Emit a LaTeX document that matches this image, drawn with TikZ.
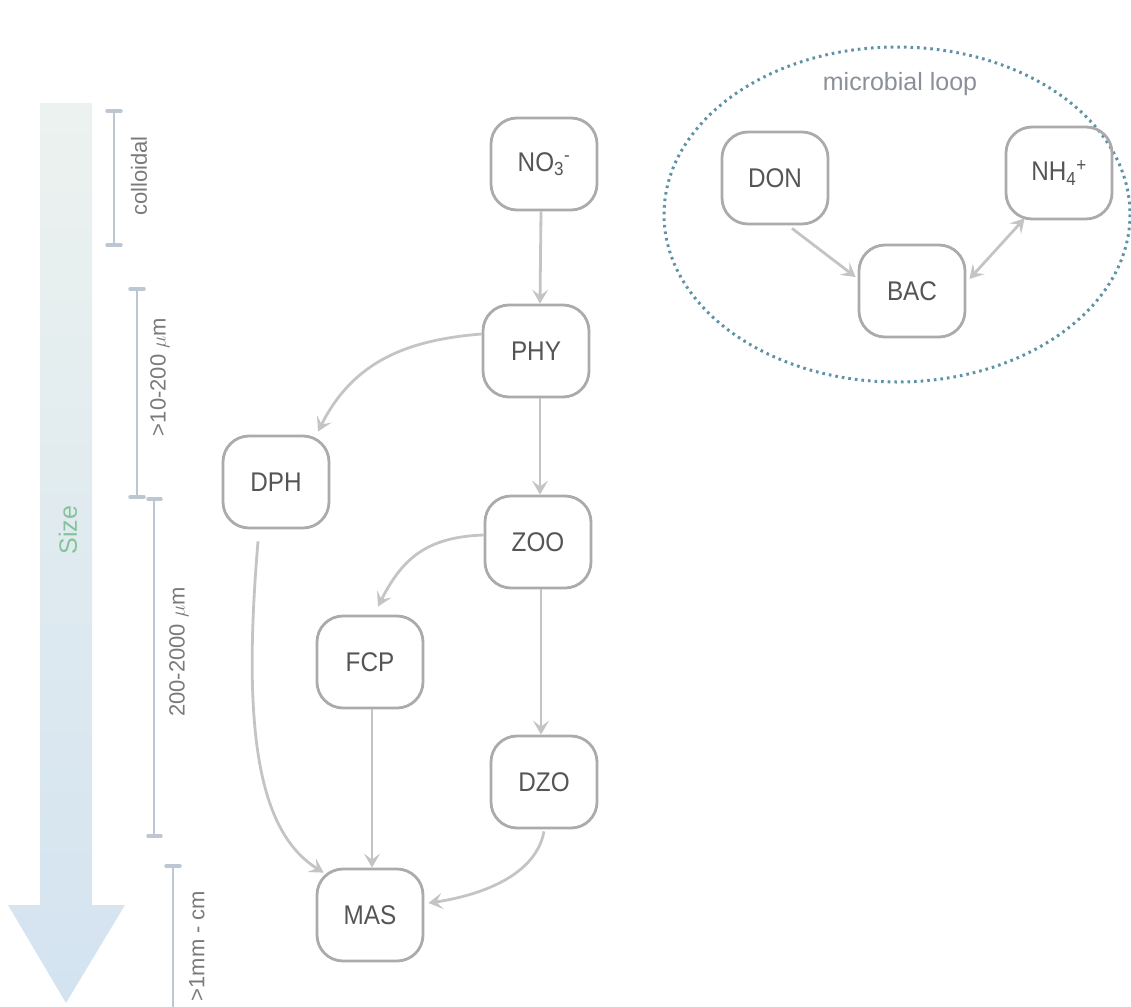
\documentclass[tikz,border=0pt]{standalone}
\usepackage{fontspec}
\setmainfont{Liberation Sans}
\newfontfamily\boxfont[FakeStretch=0.9]{Liberation Sans}
\usetikzlibrary{arrows.meta,calc}
\definecolor{nodeline}{HTML}{ABABAB}
\definecolor{nodetext}{HTML}{555555}
\definecolor{edgecol}{HTML}{C4C4C4}
\definecolor{brk}{HTML}{BCC7D3}
\definecolor{brktext}{HTML}{7A7A7A}
\definecolor{loopcol}{HTML}{5E93A6}
\definecolor{looptext}{HTML}{8A9099}
\definecolor{sizegreen}{HTML}{86C29A}
\definecolor{arrtop}{HTML}{ECF2EF}
\definecolor{arrbot}{HTML}{D3E3F0}
\tikzset{
  box/.style={draw=nodeline, line width=2.8pt, rounded corners=26pt,
    minimum width=106pt, minimum height=92pt, text=nodetext,
    font=\boxfont\fontsize{27}{31}\selectfont, inner sep=0pt},
  tip/.tip={Stealth[length=14pt,width=16pt,inset=6pt]},
  edge/.style={draw=edgecol, line width=2.8pt, -tip},
  bline/.style={draw=brk, line width=2.5pt},
  bcap/.style={draw=brk, line width=3.5pt, line cap=round},
  blabel/.style={text=brktext, rotate=90, font=\fontsize{22}{26}\selectfont, inner sep=0pt}
}
\begin{document}
\begin{tikzpicture}[x=1pt,y=-1pt]
\useasboundingbox (0,0) rectangle (1131,1006);
% size arrow
\shade[top color=arrtop, bottom color=arrbot]
  (40,103) -- (92,103) -- (92,905) -- (125,905) -- (66,1003) -- (8,905) -- (40,905) -- cycle;
\node[text=sizegreen, rotate=90, font=\fontsize{25}{29}\selectfont, inner sep=0pt] (size) at (68,530) {Size};
% brackets
\draw[bline] (114,111) -- (114,245);
\draw[bcap] (107,111) -- (121,111);
\draw[bcap] (107,245) -- (121,245);
\node[blabel] (lcol) at (139,176) {colloidal};
\draw[bline] (137,289) -- (137,497);
\draw[bcap] (130,289) -- (144,289);
\draw[bcap] (130,497) -- (144,497);
\node[blabel] (l10) at (160,377) {>10-200 $\mu$m};
\draw[bline] (154,499) -- (154,836);
\draw[bcap] (148,499) -- (161,499);
\draw[bcap] (148,836) -- (161,836);
\node[blabel] (l200) at (179,652) {200-2000 $\mu$m};
\draw[bline] (173,866) -- (173,1010);
\draw[bcap] (166,866) -- (180,866);
\node[blabel] (lmm) at (197,946) {>1mm - cm};
% microbial loop
\draw[loopcol, line width=3pt, dash pattern=on 2.6pt off 4pt]
  (897,214.5) ellipse [x radius=233, y radius=167.5];
\node[text=looptext, font=\fontsize{25}{29}\selectfont, inner sep=0pt] (mloop) at (900,84) {microbial loop};
% nodes
\node[box] (NO3) at (544,164) {NO\textsubscript{3}\textsuperscript{-}};
\node[box] (PHY) at (536,351) {PHY};
\node[box] (DPH) at (276,482) {DPH};
\node[box] (ZOO) at (538,542) {ZOO};
\node[box] (FCP) at (370,662) {FCP};
\node[box] (DZO) at (544,782) {DZO};
\node[box] (MAS) at (370,915) {MAS};
\node[box] (DON) at (775,178) {DON};
\node[box] (NH4) at (1059,173) {NH\textsubscript{4}\textsuperscript{+}};
\node[box] (BAC) at (912,291) {BAC};
% edges
\draw[edge] ($(NO3.south)+(-3,0)$) -- ($(PHY.north)+(4,0)$);
\draw[edge] ($(PHY.south)+(4,0)$) -- ($(ZOO.north)+(2,0)$);
\draw[edge] ($(ZOO.south)+(3,0)$) -- ($(DZO.north)+(-3,0)$);
\draw[edge] ($(FCP.south)+(2,0)$) -- ($(MAS.north)+(2,0)$);
\draw[edge] ($(PHY.west)+(0,-17)$) .. controls +(-75,6) and +(35,-70) .. ($(DPH.north)+(42,-3)$);
\draw[edge] ($(ZOO.west)+(0,-7)$) .. controls +(-55,2) and +(25,-50) .. ($(FCP.north)+(8,-8)$);
\draw[edge] ($(DPH.south)+(-18,12)$) .. controls (243,720) and (255,830) .. ($(MAS.north west)+(8,5)$);
\draw[edge] ($(DZO.south)+(0,2)$) .. controls (535,880) and (470,897) .. ($(MAS.east)+(4,-12)$);
\draw[edge] ($(DON.south)+(17,3)$) -- ($(BAC.west)+(-2,-14)$);
\draw[edge, tip-tip] ($(BAC.east)+(3,-12)$) -- ($(NH4.south west)+(20,-2)$);
\end{tikzpicture}
\end{document}
